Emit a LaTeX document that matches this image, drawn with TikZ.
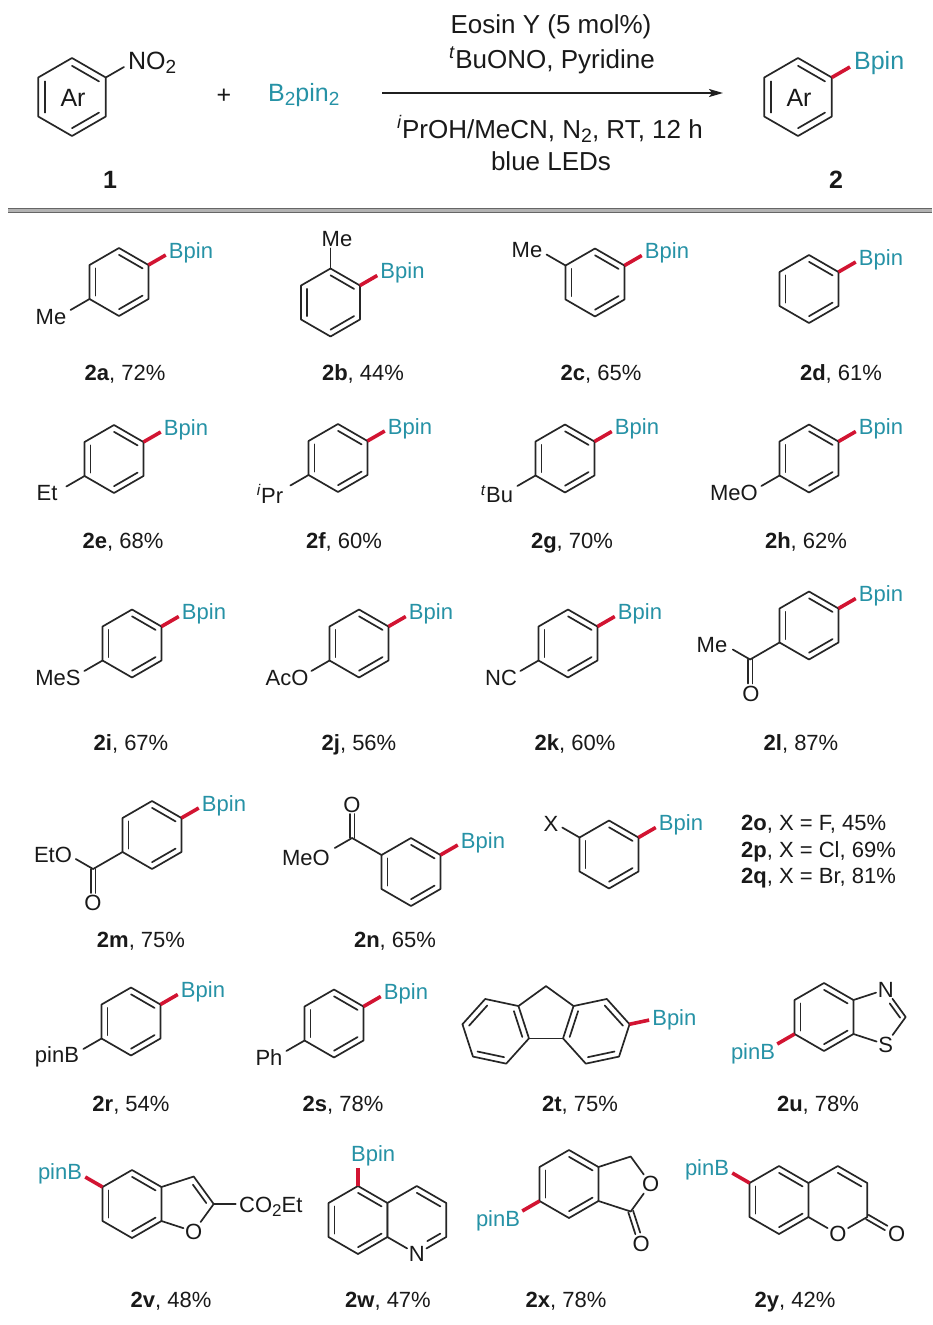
\documentclass[tikz,border=0pt]{standalone}
\usepackage{fontspec}
\setmainfont{Liberation Sans}
\usetikzlibrary{calc,arrows.meta}
\definecolor{bteal}{RGB}{38,146,166}
\definecolor{bred}{RGB}{210,20,50}
\newcommand\fs{\fontsize{22}{26}\selectfont}
\newcommand\fh{\fontsize{25}{30}\selectfont}
\newcommand\fc{\fontsize{26}{31}\selectfont}
\newcommand\sbh[1]{\raisebox{-4.5pt}{\fontsize{19}{19}\selectfont #1}}
\newcommand\sbc[1]{\raisebox{-4.5pt}{\fontsize{19.5}{19}\selectfont #1}}
\newcommand\sbt[1]{\raisebox{-4pt}{\fontsize{17}{17}\selectfont #1}}
\newcommand\hexr[5]{%
  \coordinate (#1c) at (#2,#3);
  \foreach \i in {1,...,6}{\path (#2,#3) ++({#5+60*(\i-1)}:#4) coordinate (#1-\i);}}
\newcommand\hexd[1]{\draw[bond] (#1-1)--(#1-2)--(#1-3)--(#1-4)--(#1-5)--(#1-6)--cycle;}
\newcommand\inl[3]{\draw[bond] ($(#1-#2)!0.2!(#1c)$) -- ($(#1-#3)!0.2!(#1c)$);}
\newcommand\kek[1]{\inl{#1}{1}{2}\inl{#1}{3}{4}\inl{#1}{5}{6}}
\newcommand\bpinNE[2]{\draw[rbond] (#1) -- ++(-30:20) coordinate (#2e);
  \node[bp, anchor=base west] (#2) at ($(#2e)+(3,3)$) {Bpin};}
\newcommand\pinbSW[2]{\draw[rbond] (#1) -- ++(150:20) coordinate (#2e);
  \node[bp, anchor=base east] (#2) at ($(#2e)+(-2,15.5)$) {pinB};}
\newcommand\pinbNW[2]{\draw[rbond] (#1) -- ++(210:20) coordinate (#2e);
  \node[bp, anchor=base east] (#2) at ($(#2e)+(-3,2.5)$) {pinB};}
\newcommand\benz[3]{\hexr{#1}{#2}{#3}{34}{-90}\hexd{#1}\kek{#1}}
\begin{document}
\begin{tikzpicture}[x=1pt,y=-1pt,
  bond/.style={line width=1.7pt, line cap=round, line join=round, draw=black!85},
  rbond/.style={line width=3.6pt, draw=bred},
  bp/.style={font=\fs, text=bteal, inner sep=0pt},
  lab/.style={font=\fs, inner sep=1.5pt, text=black!90},
  caplab/.style={font=\fs, anchor=base, inner sep=0pt, text=black!90},
  hl/.style={font=\fh, inner sep=0pt, text=black!90},
  cond/.style={font=\fc, anchor=base, inner sep=0pt, text=black!90}]
\useasboundingbox (0,0) rectangle (932,1325);
\fill[white] (0,0) rectangle (932,1325);

% ---------- header ----------
\hexr{hA}{72}{97}{39}{-90}\hexd{hA}\kek{hA}
\node[hl] (arA) at (73,98) {Ar};
\draw[bond] (hA-2) -- ++(-30:21) coordinate (hAn);
\node[hl, anchor=base west] (no2) at ($(hAn)+(4,2)$) {NO\sbh{2}};
\node[hl, anchor=base] (plus) at (224,103) {+};
\node[hl, anchor=base west, text=bteal] (b2pin2) at (268,101) {B\sbh{2}pin\sbh{2}};
\coordinate (arS) at (382,93);
\coordinate (arE) at (723,93);
\draw[line width=1.6pt, draw=black!88, -{Stealth[length=14pt,width=8pt,inset=3pt]}] (arS) -- (arE);
\node[cond] (c1) at (551,33) {Eosin Y (5 mol\%)};
\node[cond] (c2) at (552,68) {\textsuperscript{\textit{t}}BuONO, Pyridine};
\node[cond] (c3) at (550,138) {\textsuperscript{\textit{i}}PrOH/MeCN, N\sbc{2}, RT, 12 h};
\node[cond] (c4) at (551,170) {blue LEDs};
\hexr{hB}{798}{97}{39}{-90}\hexd{hB}\kek{hB}
\node[hl] (arB) at (799,98) {Ar};
\draw[rbond] (hB-2) -- ++(-30:21) coordinate (hBn);
\node[hl, anchor=base west, text=bteal] (hBp) at ($(hBn)+(4,2)$) {Bpin};
\node[hl, anchor=base] (one) at (110,188) {\textbf{1}};
\node[hl, anchor=base] (two) at (836,188) {\textbf{2}};
\coordinate (sepL) at (8,210.5);
\coordinate (sepR) at (932,210.5);
\draw[line width=4.5pt, black!30] (sepL) -- (sepR);
\draw[line width=1pt, black!60] ($(sepL)+(0,-2)$) -- ($(sepR)+(0,-2)$);
\draw[line width=1pt, black!60] ($(sepL)+(0,2)$) -- ($(sepR)+(0,2)$);

% ---------- row 1 ----------
\benz{a}{119}{282}\bpinNE{a-2}{aB}
\draw[bond] (a-5) -- ++(150:22);
\node[lab] (aMe) at (51,317) {Me};
\node[caplab] (L2a) at (125,380) {\textbf{2a}, 72\%};

\benz{b}{330.5}{302.5}\bpinNE{b-2}{bB}
\node[lab] (bMe) at (337,239) {Me};
\draw[bond] (b-1) -- (b-1 |- bMe.south);
\node[caplab] (L2b) at (363,380) {\textbf{2b}, 44\%};

\benz{c}{595}{282.5}\bpinNE{c-2}{cB}
\draw[bond] (c-6) -- ++(210:22);
\node[lab] (cMe) at (527,250) {Me};
\node[caplab] (L2c) at (601,380) {\textbf{2c}, 65\%};

\benz{d}{809}{289}\bpinNE{d-2}{dB}
\node[caplab] (L2d) at (841,380) {\textbf{2d}, 61\%};

% ---------- row 2 ----------
\benz{e}{114}{459}\bpinNE{e-2}{eB}
\draw[bond] (e-5) -- ++(150:21);
\node[lab] (eEt) at (47,493) {Et};
\node[caplab] (L2e) at (123,548) {\textbf{2e}, 68\%};

\benz{f}{338}{458}\bpinNE{f-2}{fB}
\draw[bond] (f-5) -- ++(150:21);
\node[lab] (fPr) at (270,494) {\textsuperscript{\textit{i}}Pr};
\node[caplab] (L2f) at (344,548) {\textbf{2f}, 60\%};

\benz{g}{565}{458.5}\bpinNE{g-2}{gB}
\draw[bond] (g-5) -- ++(150:21);
\node[lab] (gBu) at (497,494) {\textsuperscript{\textit{t}}Bu};
\node[caplab] (L2g) at (572,548) {\textbf{2g}, 70\%};

\benz{h}{809}{458.5}\bpinNE{h-2}{hB}
\draw[bond] (h-5) -- ++(150:21);
\node[lab] (hMeO) at (734,493) {MeO};
\node[caplab] (L2h) at (806,548) {\textbf{2h}, 62\%};

% ---------- row 3 ----------
\benz{i}{132}{643.5}\bpinNE{i-2}{iB}
\draw[bond] (i-5) -- ++(150:21);
\node[lab] (iMeS) at (58,678) {MeS};
\node[caplab] (L2i) at (131,750) {\textbf{2i}, 67\%};

\benz{j}{359}{643.5}\bpinNE{j-2}{jB}
\draw[bond] (j-5) -- ++(150:21);
\node[lab] (jAcO) at (287,678) {AcO};
\node[caplab] (L2j) at (359,750) {\textbf{2j}, 56\%};

\benz{k}{568}{643.5}\bpinNE{k-2}{kB}
\draw[bond] (k-5) -- ++(150:21);
\node[lab] (kNC) at (501,678) {NC};
\node[caplab] (L2k) at (575,750) {\textbf{2k}, 60\%};

\benz{l}{809}{625.5}\bpinNE{l-2}{lB}
\draw[bond] (l-5) -- ++(150:34) coordinate (lC);
\draw[bond] (lC) -- ++(210:20);
\node[lab] (lMe) at (712,645) {Me};
\draw[bond] ($(lC)+(-2.3,0)$) -- ++(0,24);
\draw[bond] ($(lC)+(2.3,0)$) -- ++(0,24);
\node[lab] (lO) at (751,694) {O};
\node[caplab] (L2l) at (801,750) {\textbf{2l}, 87\%};

% ---------- row 4 ----------
\benz{m}{152}{835}\bpinNE{m-2}{mB}
\draw[bond] (m-5) -- ++(150:34) coordinate (mC);
\draw[bond] (mC) -- ++(210:20);
\node[lab] (mEtO) at (53,855) {EtO};
\draw[bond] ($(mC)+(-2.3,0)$) -- ++(0,24);
\draw[bond] ($(mC)+(2.3,0)$) -- ++(0,24);
\node[lab] (mO) at (93,903) {O};
\node[caplab] (L2m) at (141,947) {\textbf{2m}, 75\%};

\benz{n}{411}{872}\bpinNE{n-2}{nB}
\draw[bond] (n-6) -- ++(210:34) coordinate (nC);
\draw[bond] (nC) -- ++(150:20);
\node[lab] (nMeO) at (306,858) {MeO};
\draw[bond] ($(nC)+(-2.3,0)$) -- ++(0,-24);
\draw[bond] ($(nC)+(2.3,0)$) -- ++(0,-24);
\node[lab] (nO) at (352,805) {O};
\node[caplab] (L2n) at (395,947) {\textbf{2n}, 65\%};

\benz{o}{609}{854.5}\bpinNE{o-2}{oB}
\draw[bond] (o-6) -- ++(210:20);
\node[lab] (oX) at (551,824) {X};
\node[caplab, anchor=base west] (L2o) at (741,830) {\textbf{2o}, X = F, 45\%};
\node[caplab, anchor=base west] (L2p) at (741,857) {\textbf{2p}, X = Cl, 69\%};
\node[caplab, anchor=base west] (L2q) at (741,883) {\textbf{2q}, X = Br, 81\%};

% ---------- row 5 ----------
\benz{r}{131}{1021.5}\bpinNE{r-2}{rB}
\draw[bond] (r-5) -- ++(150:21);
\node[lab] (rpinB) at (57,1057) {pinB};
\node[caplab] (L2r) at (131,1111) {\textbf{2r}, 54\%};

\benz{s}{334}{1023.5}\bpinNE{s-2}{sB}
\draw[bond] (s-5) -- ++(150:21);
\node[lab] (sPh) at (269,1058) {Ph};
\node[caplab] (L2s) at (343,1111) {\textbf{2s}, 78\%};

% fluorene
\hexr{tR}{596.3}{1031.3}{34}{228}\hexd{tR}
\hexr{tL}{495.7}{1031.3}{34}{12}\hexd{tL}
\coordinate (tT) at (546,986.1);
\draw[bond] (tL-6) -- (tT) -- (tR-1);
\draw[bond] (tL-1) -- (tR-6);
\inl{tR}{6}{1}\inl{tR}{2}{3}\inl{tR}{4}{5}
\inl{tL}{6}{1}\inl{tL}{4}{5}\inl{tL}{2}{3}
\draw[rbond] (tR-3) -- ++(-12:20) coordinate (tBe);
\node[bp, anchor=base west] (tB) at ($(tBe)+(3,5)$) {Bpin};
\node[caplab] (L2t) at (580,1111) {\textbf{2t}, 75\%};

% benzothiazole
\benz{u}{824}{1017}
\node[lab] (uN) at (885.7,989.5) {N};
\node[lab] (uS) at (885.7,1044.5) {S};
\coordinate (uC2) at (905.7,1017);
\draw[bond] (u-2) -- (uN);
\draw[bond] (uN) -- (uC2) -- (uS) -- (u-3);
\draw[bond] ($(uN)!0.4!(uC2)+(-4,2.9)$) -- ($(uN)!0.92!(uC2)+(-4,2.9)$);
\pinbSW{u-5}{uB}
\node[caplab] (L2u) at (818,1111) {\textbf{2u}, 78\%};

% ---------- row 6 ----------
\benz{v}{132}{1204}
\coordinate (vC3) at (193.7,1176.5);
\coordinate (vC2) at (213.7,1204);
\node[lab] (vO) at (193.7,1231.5) {O};
\draw[bond] (v-2) -- (vC3) -- (vC2) -- (vO) -- (v-3);
\draw[bond] ($(vC3)!0.18!(vC2)+(-4.4,3.2)$) -- ($(vC3)!0.85!(vC2)+(-4.4,3.2)$);
\draw[bond] (vC2) -- ++(22,0) coordinate (vCe);
\node[lab, anchor=base west, inner sep=0pt] (vE) at (239,1212) {CO\sbt{2}Et};
\pinbNW{v-6}{vB}
\node[caplab] (L2v) at (171,1307) {\textbf{2v}, 48\%};

% quinoline
\benz{wL}{358}{1220}
\hexr{wR}{416.8}{1220}{34}{-90}
\node[lab] (wN) at (wR-4) {N};
\draw[bond] (wR-5) -- (wR-6) -- (wR-1) -- (wR-2) -- (wR-3) -- (wN) -- (wR-5);
\inl{wR}{1}{2}
\draw[bond] (440.3,1233.6) -- (427.3,1241.1);
\draw[rbond] (wL-1) -- ++(0,-18) coordinate (wBe);
\node[bp, anchor=base west] (wB) at (351,1161) {Bpin};
\node[caplab] (L2w) at (388,1307) {\textbf{2w}, 47\%};

% phthalide
\benz{x}{569}{1184}
\coordinate (xCH) at (630.7,1156.5);
\node[lab] (xO) at (650.7,1184) {O};
\coordinate (xCc) at (630.7,1211.5);
\node[lab] (xO2) at (641.2,1244) {O};
\draw[bond] (x-2) -- (xCH) -- (xO) -- (xCc) -- (x-3);
\draw[bond] ($(xCc)+(2.4,-0.8)$) -- ++(7.1,21.9);
\draw[bond] ($(xCc)+(-2.4,0.8)$) -- ++(7.1,21.9);
\pinbSW{x-5}{xB}
\node[caplab] (L2x) at (566,1307) {\textbf{2x}, 78\%};

% coumarin
\benz{yL}{779}{1200}
\hexr{yR}{837.8}{1200}{34}{-90}
\node[lab] (yO) at (yR-4) {O};
\node[lab] (yO2) at (896.6,1234) {O};
\draw[bond] (yR-6) -- (yR-1) -- (yR-2) -- (yR-3) -- (yO) -- (yR-5);
\inl{yR}{1}{2}
\draw[bond] ($(yR-3)+(1.25,-2.17)$) -- ++(19,11);
\draw[bond] ($(yR-3)+(-1.25,2.17)$) -- ++(19,11);
\pinbNW{yL-6}{yB}
\node[caplab] (L2y) at (795,1307) {\textbf{2y}, 42\%};
\end{tikzpicture}
\end{document}
